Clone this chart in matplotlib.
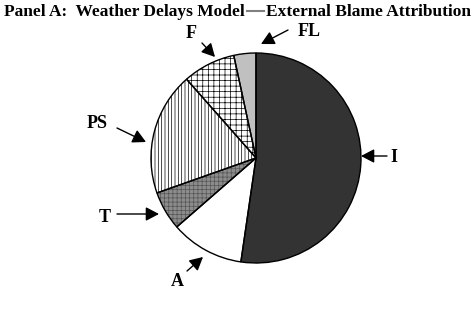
import matplotlib
matplotlib.use("Agg")
import matplotlib.pyplot as plt

labels = ["I", "A", "T", "PS", "F", "FL"]
values = [52.3, 11.3, 6.0, 18.9, 8.1, 3.4]
faces = ["#333333", "#ffffff", "#8c8c8c", "#ffffff", "#ffffff", "#c0c0c0"]
hatches = [None, None, "++++", "|||||", "+++", None]
hatch_cols = ["#333333", "#ffffff", "#555555", "#000000", "#000000", "#c0c0c0"]

# label text position, arrow tail, arrow tip (pixel layout)
label_pos = {
    "I": ((394, 158), (387, 156), (361, 156)),
    "A": ((177, 282), (187, 271), (203, 257)),
    "T": ((105, 217), (117, 214), (159, 214)),
    "PS": ((97, 124), (117, 128), (146, 142)),
    "F": ((191, 34), (202, 43), (215, 57)),
    "FL": ((309, 32), (288, 30), (261, 44)),
}

plt.rcParams["hatch.linewidth"] = 0.5
W, H = 475, 309
fig = plt.figure(figsize=(W / 100, H / 100), dpi=100)
ax = fig.add_axes([0, 0, 1, 1])

center = (256, 158)
R = 105
wedges, _ = ax.pie(values, colors=faces, startangle=-90, counterclock=True,
                   center=center, radius=R, frame=True)
for w, h, hc in zip(wedges, hatches, hatch_cols):
    w.set_edgecolor(hc)
    w.set_linewidth(0)
    if h:
        w.set_hatch(h)
ax.pie(values, colors=["none"] * len(values), startangle=-90,
       counterclock=True, center=center, radius=R, frame=True,
       wedgeprops=dict(edgecolor="black", linewidth=1.0, fill=False))
ax.set_xlim(0, W)
ax.set_ylim(H, 0)
ax.set_aspect("equal")
ax.axis("off")

for lab in labels:
    tpos, tail, tip = label_pos[lab]
    ax.text(tpos[0], tpos[1], lab, ha="center", va="center",
            fontsize=13, fontweight="bold", family="Liberation Serif")
    ax.annotate("", xy=tip, xytext=tail,
                arrowprops=dict(arrowstyle="-|>,head_length=0.8,head_width=0.42",
                                color="black", lw=1.0, shrinkA=0, shrinkB=0))

ax.text(4, 12, "Panel A:  Weather Delays Model", ha="left", va="center",
        fontsize=12.5, fontweight="bold", family="Liberation Serif")
ax.text(471, 12, "External Blame Attribution", ha="right", va="center",
        fontsize=12.5, fontweight="bold", family="Liberation Serif")
ax.plot([247, 264], [11, 11], color="#808080", lw=1.5, clip_on=False)

fig.savefig("out.png", dpi=100)
